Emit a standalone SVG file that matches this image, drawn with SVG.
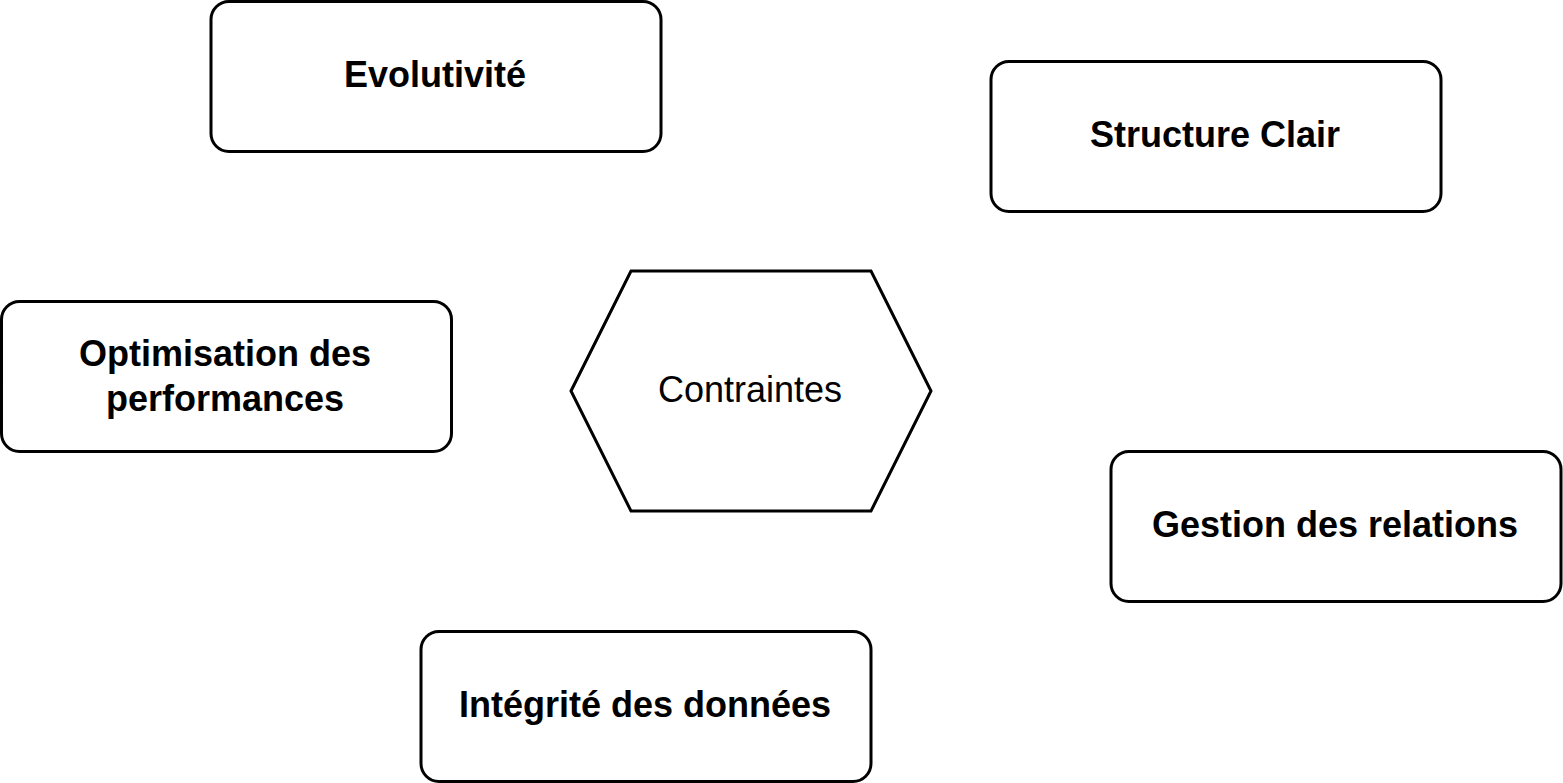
<svg xmlns="http://www.w3.org/2000/svg" width="1563" height="783" viewBox="0 0 1563 783">
<style>
.box{fill:#fff;stroke:#000;stroke-width:3}
.lbl{font-family:"Liberation Sans",Arial,sans-serif;font-size:36px;font-weight:bold;fill:#000;text-anchor:middle}
.reg{font-family:"Liberation Sans",Arial,sans-serif;font-size:36px;fill:#000;text-anchor:middle}
</style>
<rect width="1563" height="783" fill="#fff"/>
<g id="connectors"></g>
<g id="evolutivite">
<rect class="box" x="211" y="1.5" width="450" height="150" rx="18"/>
<text class="lbl" x="435" y="87">Evolutivité</text>
</g>
<g id="structure">
<rect class="box" x="991" y="61.5" width="450" height="150" rx="18"/>
<text class="lbl" x="1215" y="147">Structure Clair</text>
</g>
<g id="optimisation">
<rect class="box" x="1.5" y="301.5" width="450" height="150" rx="18"/>
<text class="lbl" x="225" y="366">Optimisation des</text>
<text class="lbl" x="225" y="411">performances</text>
</g>
<g id="contraintes">
<polygon class="box" points="571,391 631,271 871,271 931,391 871,511 631,511"/>
<text class="reg" x="750" y="402">Contraintes</text>
</g>
<g id="gestion">
<rect class="box" x="1111" y="451.5" width="450" height="150" rx="18"/>
<text class="lbl" x="1335" y="537">Gestion des relations</text>
</g>
<g id="integrite">
<rect class="box" x="421" y="631.5" width="450" height="150" rx="18"/>
<text class="lbl" x="645" y="717">Intégrité des données</text>
</g>
</svg>
